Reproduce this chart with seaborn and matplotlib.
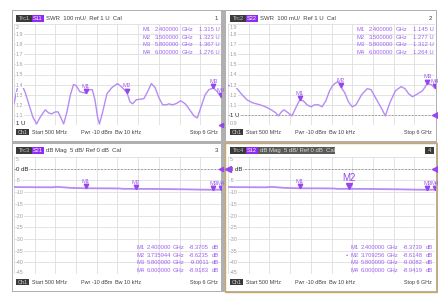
import numpy as np
import matplotlib
import matplotlib.pyplot as plt
import matplotlib.transforms as mtransforms
from matplotlib.patches import Rectangle
import seaborn as sns

matplotlib.use('Agg')

sns.set_style('white')
plt.rcParams['font.family'] = ['Liberation Sans', 'DejaVu Sans']

W, H = 439, 302

# ---- trace data ----
s11_freq = [0.5, 0.55, 0.6, 0.65, 0.72, 0.8, 0.9, 1.0, 1.1, 1.2, 1.33, 1.42, 1.5, 1.6, 1.67,
            1.75, 1.82, 1.9, 2.0, 2.08, 2.15, 2.25, 2.4, 2.5, 2.58, 2.65, 2.72, 2.77, 2.85,
            2.97, 3.1, 3.25, 3.35, 3.5, 3.58, 3.65, 3.75, 3.95, 4.05, 4.15, 4.25, 4.35, 4.45,
            4.55, 4.62, 4.7, 4.8, 4.93, 5.05, 5.15, 5.28, 5.37, 5.47, 5.58, 5.68, 5.8, 5.9, 6.0]
s11_swr = [1.21, 1.30, 1.38, 1.41, 1.39, 1.32, 1.20, 1.08, 1.01, 1.08, 1.15, 1.12, 1.11, 1.13, 1.13,
           1.07, 1.01, 1.12, 1.30, 1.40, 1.39, 1.33, 1.315, 1.35, 1.35, 1.25, 1.08, 1.01, 1.12,
           1.31, 1.37, 1.41, 1.38, 1.323, 1.23, 1.21, 1.25, 1.26, 1.33, 1.41, 1.37, 1.27, 1.20,
           1.20, 1.21, 1.20, 1.21, 1.24, 1.21, 1.16, 1.09, 1.07, 1.18, 1.30, 1.35, 1.367, 1.33, 1.276]

s22_freq = [0.5, 0.6, 0.72, 0.85, 1.0, 1.15, 1.35, 1.5, 1.65, 1.77, 1.84, 1.92, 1.99, 2.1, 2.2,
            2.3, 2.4, 2.5, 2.6, 2.7, 2.8, 2.9, 3.0, 3.1, 3.2, 3.3, 3.42, 3.5, 3.6, 3.7, 3.8,
            3.9, 4.05, 4.2, 4.3, 4.45, 4.6, 4.68, 4.8, 4.95, 5.1, 5.2, 5.3, 5.4, 5.5, 5.67, 5.8, 5.9, 6.0]
s22_swr = [1.29, 1.29, 1.27, 1.21, 1.15, 1.12, 1.10, 1.08, 1.05, 1.02, 0.99, 1.03, 1.05, 1.02, 0.99,
           1.07, 1.145, 1.14, 1.10, 1.08, 1.10, 1.10, 1.08, 1.14, 1.24, 1.30, 1.33, 1.277, 1.22, 1.13, 1.08,
           1.10, 1.20, 1.26, 1.25, 1.15, 1.05, 0.99, 1.12, 1.24, 1.28, 1.26, 1.21, 1.18, 1.20, 1.24, 1.312, 1.30, 1.264]

s21_freq = [0.5, 1.0, 1.5, 1.62, 1.7, 1.85, 2.0, 2.4, 3.0, 3.3, 3.4, 3.736, 4.2, 4.5, 5.0, 5.5, 5.8, 6.0]
s21_db = [-7.85, -7.9, -7.95, -7.8, -7.8, -8.0, -8.2, -8.37, -8.4, -8.45, -8.6, -8.62, -8.65, -8.7, -8.8, -8.95, -9.0, -8.92]

s12_freq = [0.5, 1.0, 1.5, 1.62, 1.7, 1.85, 2.0, 2.4, 3.0, 3.3, 3.4, 3.709, 4.2, 4.5, 5.0, 5.5, 5.8, 6.0]
s12_db = [-7.85, -7.9, -7.95, -7.8, -7.8, -8.0, -8.2, -8.37, -8.4, -8.45, -8.6, -8.61, -8.65, -8.7, -8.8, -8.95, -9.01, -8.94]

# ---- marker data ----
s11_mk_freq = [2.4, 3.5, 5.8, 6.0]
s11_mk_val = [1.315, 1.323, 1.367, 1.276]
s11_mk_ftxt = ['2.400000', '3.500000', '5.800000', '6.000000']
s11_mk_vtxt = ['1.315 U', '1.323 U', '1.367 U', '1.276 U']

s22_mk_freq = [2.4, 3.5, 5.8, 6.0]
s22_mk_val = [1.145, 1.277, 1.312, 1.264]
s22_mk_ftxt = ['2.400000', '3.500000', '5.800000', '6.000000']
s22_mk_vtxt = ['1.145 U', '1.277 U', '1.312 U', '1.264 U']

s21_mk_freq = [2.4, 3.735944, 5.8, 6.0]
s21_mk_val = [-8.3705, -8.6235, -9.0011, -8.9183]
s21_mk_ftxt = ['2.400000', '3.735944', '5.800000', '6.000000']
s21_mk_vtxt = ['-8.3705', '-8.6235', '-9.0011', '-8.9183']

s12_mk_freq = [2.4, 3.709256, 5.8, 6.0]
s12_mk_val = [-8.3739, -8.6148, -9.0082, -8.9419]
s12_mk_ftxt = ['2.400000', '3.709256', '5.800000', '6.000000']
s12_mk_vtxt = ['-8.3739', '-8.6148', '-9.0082', '-8.9419']

swr1_labels = ['2', '1.9', '1.8', '1.7', '1.6', '1.5', '1.4', '1.3', '1.2', '1.1', '1 U']
swr2_labels = ['1.9', '1.8', '1.7', '1.6', '1.5', '1.4', '1.3', '1.2', '1.1', '1 U', '0.9']
db_labels = ['5', '0 dB', '-5', '-10', '-15', '-20', '-25', '-30', '-35', '-40', '-45']

TRACE = '#b68cf4'
MK = '#9646ec'
MKTXT = '#a062f0'
GRID = '#dedede'
TXT = '#404040'

fig = plt.figure(figsize=(W / 100, H / 100), dpi=100)
bg = fig.add_axes([0, 0, 1, 1])
bg.set_xlim(0, W)
bg.set_ylim(H, 0)
bg.axis('off')

# frame and panels
bg.add_patch(Rectangle((12.5, 9.5), 425, 282.5, fc='#b0b0b0', ec='none'))
for (x0, y0, x1, y1) in [(13.5, 10.5, 221, 140.5), (226, 10.5, 436.5, 140.5),
                         (13.5, 143.5, 221, 291), (226, 143.5, 436.5, 291)]:
    bg.add_patch(Rectangle((x0, y0), x1 - x0, y1 - y0, fc='white', ec='none'))
bg.add_patch(Rectangle((225.5, 143), 211.5, 148.5, fc='none', ec='#c9a86e', lw=1.0))


def make_ax(x0, y0, x1, y1, ylim):
    ax = fig.add_axes([x0 / W, 1 - y1 / H, (x1 - x0) / W, (y1 - y0) / H])
    ax.set_xlim(0.5, 6.0)
    ax.set_ylim(*ylim)
    ax.set_xticks(np.linspace(0.5, 6.0, 11))
    ax.set_yticks(np.linspace(ylim[0], ylim[1], 11))
    ax.grid(True, color=GRID, lw=0.6)
    ax.tick_params(length=0, labelbottom=False, labelleft=False)
    for s in ax.spines.values():
        s.set_visible(False)
    ax.set_facecolor('none')
    return ax


def header(x, y, trc, sp, desc, num, numx, active=False):
    if active:
        bg.add_patch(Rectangle((x, y - 3.5), 105, 7, fc='#5a5a5a', ec='none'))
    bg.add_patch(Rectangle((x, y - 3.5), 16, 7, fc='#3a3a3a', ec='none'))
    bg.text(x + 8, y, trc, color='#c8c8c8', fontsize=4.1, ha='center', va='center_baseline')
    bg.add_patch(Rectangle((x + 16, y - 3.5), 12, 7, fc='#8e2cf2', ec='none'))
    bg.text(x + 22, y, sp, color='white', fontsize=4.1, ha='center', va='center_baseline')
    bg.text(x + 30, y, desc, color='#d8d8d8' if active else TXT, fontsize=4.3,
            ha='left', va='center_baseline')
    if active:
        bg.add_patch(Rectangle((numx - 8, y - 3.5), 9, 7, fc='#3a3a3a', ec='none'))
        bg.text(numx - 3.5, y, num, color='#d0d0d0', fontsize=4.3, ha='center', va='center_baseline')
    else:
        bg.text(numx, y, num, color=TXT, fontsize=4.4, ha='right', va='center_baseline')


def footer(x, y, right):
    bg.add_patch(Rectangle((x, y - 3.2), 13, 6.4, fc='#3a3a3a', ec='none'))
    bg.text(x + 6.5, y, 'Ch1', color='#d0d0d0', fontsize=4.0, ha='center', va='center_baseline')
    bg.text(x + 16, y, 'Start 500 MHz', color=TXT, fontsize=3.9, va='center_baseline')
    bg.text(x + 65, y, 'Pwr -10 dBm', color=TXT, fontsize=3.9, va='center_baseline')
    bg.text(x + 99, y, 'Bw 10 kHz', color=TXT, fontsize=3.9, va='center_baseline')
    bg.text(right, y, 'Stop 6 GHz', color=TXT, fontsize=3.9, ha='right', va='center_baseline')


def ylabels(ax, x, ys, labels, ref):
    for yy, lab in zip(ys, labels):
        strong = lab == ref
        ax.text(x, yy, lab, transform=bg.transData, fontsize=4.3 if strong else 3.9,
                color='#202020' if strong else '#a0a0a0', ha='left', va='center_baseline',
                bbox=dict(fc='white', ec='none', pad=0.2), zorder=5)


def markers(ax, freqs, vals, names, big=None):
    for f, v, n in zip(freqs, vals, names):
        if n == big:
            ms, dy, fs, col, off = 4.6, 2.6, 7, MK, 6
        else:
            ms, dy, fs, col, off = 3.2, 1.8, 4.3, MKTXT, 4
        tr = mtransforms.offset_copy(ax.transData, fig=fig, x=0, y=dy, units='dots')
        ax.plot([f], [v], marker='v', ms=ms, color=MK, ls='none', transform=tr, zorder=6)
        ax.annotate(n, xy=(f, v), xytext=(0, off), textcoords='offset pixels', ha='center',
                    va='bottom', fontsize=fs, color=col, zorder=6).set_clip_on(True)


def table(ax, x, ys, ftxt, vtxt, unit=None, dot=None):
    for i, (yy, ft, vt) in enumerate(zip(ys, ftxt, vtxt)):
        kw = dict(transform=bg.transData, fontsize=4.2, color=MKTXT, va='center_baseline',
                  zorder=7, clip_on=True)
        if dot == i:
            ax.text(x - 4, yy, '•', ha='center', **kw)
        ax.text(x, yy, 'M%d' % (i + 1), ha='left', **kw)
        if unit is None:
            ax.text(x + 36, yy, ft, ha='right', **kw)
            ax.text(x + 39, yy, 'GHz', ha='left', **kw)
            ax.text(x + 56, yy, vt, ha='left', **kw)
        else:
            ax.text(x + 34, yy, ft, ha='right', **kw)
            ax.text(x + 36, yy, 'GHz', ha='left', **kw)
            ax.text(x + 72, yy, vt, ha='right', **kw)
            ax.text(x + 75, yy, unit, ha='left', **kw)


dx = 214
top_y = (24, 125)
bot_y = (157, 274)
top_grid = np.linspace(top_y[0], top_y[1], 11)
bot_grid = np.linspace(bot_y[0], bot_y[1], 11)
top_lab_y = list(top_grid)
top_lab_y[0] += 3
top_lab_y[-1] -= 2
bot_lab_y = list(bot_grid)
bot_lab_y[0] += 2
bot_lab_y[-1] -= 2

# ---- panel 1: S11 SWR ----
header(16, 18, 'Trc1', 'S11', 'SWR  100 mU/  Ref 1 U  Cal', '1', 218)
ax1 = make_ax(14, top_y[0], 221, top_y[1], (1.0, 2.0))
ax1.axhline(1.0, color='#909090', lw=0.6, ls=(0, (2, 2)))
sns.lineplot(x=s11_freq, y=s11_swr, ax=ax1, color=TRACE, linewidth=1.0, legend=False)
markers(ax1, s11_mk_freq, s11_mk_val, ['M1', 'M2', 'M3', 'M4'])
ylabels(ax1, 16, top_lab_y, swr1_labels, '1 U')
table(ax1, 143, [29.3, 36.8, 44.3, 51.8], s11_mk_ftxt, s11_mk_vtxt)
ax1.plot([6.0], [1.0], marker='<', ms=3, color=MK, clip_on=False, zorder=6)
footer(16, 132, 218)

# ---- panel 2: S22 SWR ----
header(16 + dx, 18, 'Trc2', 'S22', 'SWR  100 mU/  Ref 1 U  Cal', '2', 432)
ax2 = make_ax(14 + dx, top_y[0], 221 + dx, top_y[1], (0.9, 1.9))
ax2.axhline(1.0, color='#909090', lw=0.6, ls=(0, (2, 2)))
sns.lineplot(x=s22_freq, y=s22_swr, ax=ax2, color=TRACE, linewidth=1.0, legend=False)
markers(ax2, s22_mk_freq, s22_mk_val, ['M1', 'M2', 'M3', 'M4'])
ylabels(ax2, 16 + dx, top_lab_y, swr2_labels, '1 U')
table(ax2, 143 + dx, [29.3, 36.8, 44.3, 51.8], s22_mk_ftxt, s22_mk_vtxt)
ax2.plot([6.0], [1.0], marker='<', ms=4, color=MK, clip_on=False, zorder=6)
footer(16 + dx, 132, 218 + dx)

# ---- panel 3: S21 dB Mag ----
header(16, 150, 'Trc3', 'S21', 'dB Mag  5 dB/ Ref 0 dB  Cal', '3', 218)
ax3 = make_ax(14, bot_y[0], 221, bot_y[1], (-45, 5))
ax3.axhline(0, color='#909090', lw=0.6, ls=(0, (2, 2)))
sns.lineplot(x=s21_freq, y=s21_db, ax=ax3, color=TRACE, linewidth=1.3, legend=False)
markers(ax3, s21_mk_freq, s21_mk_val, ['M1', 'M2', 'M3', 'M4'])
ylabels(ax3, 16, bot_lab_y, db_labels, '0 dB')
table(ax3, 137, [247.3, 254.8, 262.3, 269.8], s21_mk_ftxt, s21_mk_vtxt, unit='dB')
ax3.plot([6.0], [0], marker='<', ms=3, color=MK, clip_on=False, zorder=6)
footer(16, 282, 218)

# ---- panel 4: S12 dB Mag (active) ----
header(16 + dx, 150, 'Trc4', 'S12', 'dB Mag  5 dB/ Ref 0 dB  Cal', '4', 433, active=True)
ax4 = make_ax(14 + dx, bot_y[0], 221 + dx, bot_y[1], (-45, 5))
ax4.axhline(0, color='#909090', lw=0.6, ls=(0, (2, 2)))
sns.lineplot(x=s12_freq, y=s12_db, ax=ax4, color=TRACE, linewidth=1.3, legend=False)
markers(ax4, s12_mk_freq, s12_mk_val, ['M1', 'M2', 'M3', 'M4'], big='M2')
ylabels(ax4, 16 + dx, bot_lab_y, db_labels, '0 dB')
table(ax4, 137 + dx, [247.3, 254.8, 262.3, 269.8], s12_mk_ftxt, s12_mk_vtxt, unit='dB', dot=1)
ax4.plot([6.0], [0], marker='<', ms=4, color=MK, clip_on=False, zorder=6)
ax4.plot([0.5], [0], marker='<', ms=4, color=MK, clip_on=False, zorder=6)
footer(16 + dx, 282, 218 + dx)

fig.savefig('out.png', dpi=100)
